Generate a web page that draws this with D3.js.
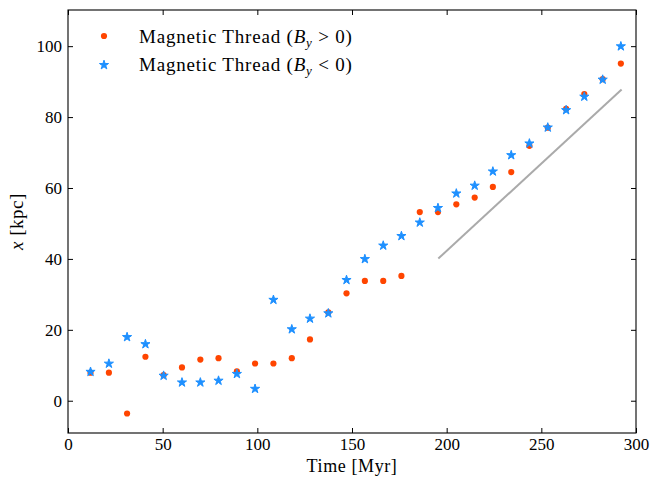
<!DOCTYPE html>
<html>
<head>
<meta charset="utf-8">
<script src="https://cdn.jsdelivr.net/npm/d3@7"></script>
<style>
  body { margin: 0; background: #fff; }
  svg text { font-family: "Liberation Serif", "DejaVu Serif", serif; fill: #000; }
</style>
</head>
<body>
<svg id="viz"></svg>
<script>
const svg = d3.select("#viz");

// time stamps (Myr), shared by both series
const times = [11.9, 21.6, 31.2, 40.9, 50.5, 60.2, 69.9, 79.5, 89.2, 98.8,
  108.5, 118.2, 127.8, 137.5, 147.1, 156.8, 166.5, 176.1, 185.8, 195.4,
  205.1, 214.8, 224.4, 234.1, 243.7, 253.4, 263.1, 272.7, 282.4, 292.0];

// B_y > 0 (red dots)
const xPos = [7.9, 7.9, -3.6, 12.4, 7.2, 9.4, 11.6, 12.0, 8.3, 10.5,
  10.5, 12.0, 17.3, 24.9, 30.3, 33.8, 33.8, 35.2, 53.2, 53.2,
  55.4, 57.3, 60.3, 64.5, 71.9, 77.0, 82.3, 86.5, 90.7, 95.1];

// B_y < 0 (blue stars)
const xNeg = [8.3, 10.6, 18.1, 16.1, 7.2, 5.3, 5.3, 5.8, 7.7, 3.5,
  28.6, 20.3, 23.3, 24.8, 34.2, 40.1, 43.9, 46.6, 50.4, 54.5,
  58.6, 60.8, 64.8, 69.4, 72.7, 77.2, 82.1, 85.9, 90.7, 100.1];

// gray reference line
const refLine = [[195.6, 40.1], [292.4, 87.8]];

const xTicks = [0, 50, 100, 150, 200, 250, 300];
const yTicks = [0, 20, 40, 60, 80, 100];

const W = 650, H = 480;
const m = {left: 68, right: 14, top: 10, bottom: 47};

svg.attr("width", W).attr("height", H);

const x = d3.scaleLinear().domain([0, 300]).range([m.left, W - m.right]);
const y = d3.scaleLinear().domain([-9.1, 110.2]).range([H - m.bottom, m.top]);

const red = "#ff4500", blue = "#1e90ff";
const tickLen = 5;

// ticks inside, on all four sides
svg.append("g")
  .attr("transform", `translate(0,${H - m.bottom})`)
  .call(d3.axisBottom(x).tickValues(xTicks).tickSizeInner(-tickLen).tickSizeOuter(0).tickPadding(5))
  .call(g => g.select(".domain").remove())
  .call(g => g.selectAll("text").attr("font-size", 17));

svg.append("g")
  .attr("transform", `translate(0,${m.top})`)
  .call(d3.axisTop(x).tickValues(xTicks).tickSizeInner(-tickLen).tickSizeOuter(0).tickFormat(""))
  .call(g => g.select(".domain").remove());

svg.append("g")
  .attr("transform", `translate(${m.left},0)`)
  .call(d3.axisLeft(y).tickValues(yTicks).tickSizeInner(-tickLen).tickSizeOuter(0).tickPadding(6))
  .call(g => g.select(".domain").remove())
  .call(g => g.selectAll("text").attr("font-size", 17));

svg.append("g")
  .attr("transform", `translate(${W - m.right},0)`)
  .call(d3.axisRight(y).tickValues(yTicks).tickSizeInner(-tickLen).tickSizeOuter(0).tickFormat(""))
  .call(g => g.select(".domain").remove());

svg.selectAll(".tick line").attr("stroke", "#000").attr("stroke-width", 1);

// frame
svg.append("rect")
  .attr("x", m.left).attr("y", m.top)
  .attr("width", W - m.left - m.right).attr("height", H - m.top - m.bottom)
  .attr("fill", "none").attr("stroke", "#000").attr("stroke-width", 1.1);

// reference line
svg.append("path")
  .datum(refLine)
  .attr("d", d3.line().x(d => x(d[0])).y(d => y(d[1])))
  .attr("stroke", "#aaaaaa").attr("stroke-width", 2).attr("fill", "none");

const star = d3.symbol().type(d3.symbolStar).size(26);

svg.append("g").selectAll("circle")
  .data(times.map((t, i) => [t, xPos[i]]))
  .enter()
  .append("circle")
  .attr("cx", d => x(d[0]))
  .attr("cy", d => y(d[1]))
  .attr("r", 3.1)
  .attr("fill", red);

svg.append("g").selectAll("path")
  .data(times.map((t, i) => [t, xNeg[i]]))
  .enter()
  .append("path")
  .attr("d", star)
  .attr("transform", d => `translate(${x(d[0])},${y(d[1]) + 0.5})`)
  .attr("fill", blue)
  .attr("stroke", blue).attr("stroke-width", 1).attr("stroke-linejoin", "round");

// axis labels
svg.append("text")
  .attr("x", (m.left + W - m.right) / 2).attr("y", 472)
  .attr("text-anchor", "middle").attr("font-size", 18)
  .attr("letter-spacing", 0.6)
  .text("Time [Myr]");

const yl = svg.append("text")
  .attr("transform", `translate(23,${(m.top + H - m.bottom) / 2}) rotate(-90)`)
  .attr("text-anchor", "middle").attr("font-size", 19)
  .attr("letter-spacing", 0.5);
yl.append("tspan").attr("font-style", "italic").text("x");
yl.append("tspan").text(" [kpc]");

// legend
const legend = [
  {sym: "circle", sign: " > 0)"},
  {sym: "star", sign: " < 0)"}
];
legend.forEach((d, i) => {
  const ly = 36 + i * 28.5;
  if (d.sym === "circle") {
    svg.append("circle").attr("cx", 104).attr("cy", ly).attr("r", 3.1).attr("fill", red);
  } else {
    svg.append("path").attr("d", star).attr("transform", `translate(104,${ly + 0.5})`)
      .attr("fill", blue).attr("stroke", blue).attr("stroke-width", 1).attr("stroke-linejoin", "round");
  }
  const t = svg.append("text").attr("x", 139).attr("y", ly + 6.5).attr("font-size", 19)
    .attr("letter-spacing", 0.8);
  t.append("tspan").text("Magnetic Thread (");
  t.append("tspan").attr("font-style", "italic").text("B");
  t.append("tspan").attr("font-style", "italic").attr("font-size", 13).attr("dy", 4).text("y");
  t.append("tspan").attr("dy", -4).text(d.sign);
});
</script>
</body>
</html>
